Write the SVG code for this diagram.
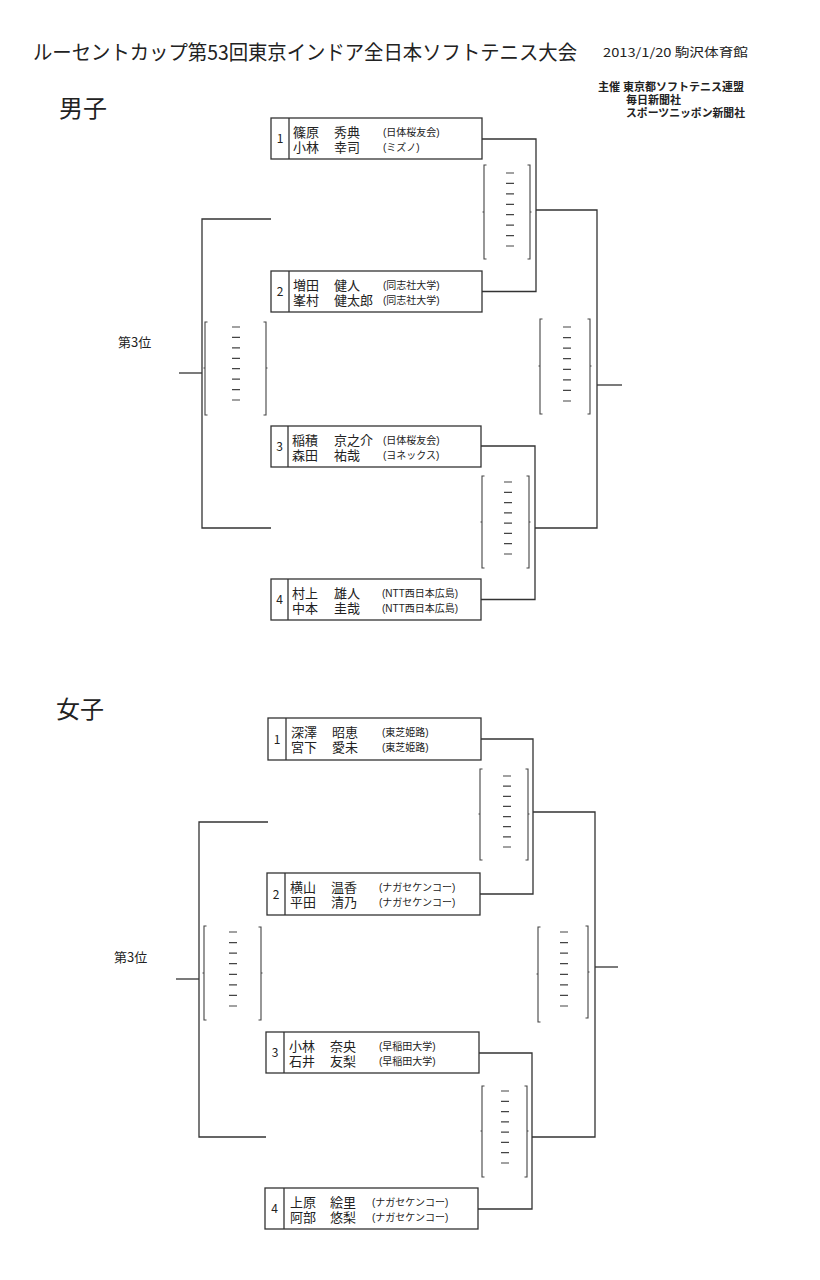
<svg xmlns="http://www.w3.org/2000/svg" width="820" height="1280" viewBox="0 0 820 1280">
<style>
text{font-family:"Noto Sans CJK JP","Noto Sans",sans-serif;fill:#222}
.box{fill:none;stroke:#333;stroke-width:1.3}
.ln{fill:none;stroke:#333;stroke-width:1.3}
.sc{fill:none;stroke:#444;stroke-width:1.1}
.dash{fill:none;stroke:#444;stroke-width:1.2}
.nm{font-size:13px;font-family:"Liberation Sans","Noto Sans CJK JP",sans-serif}
.af{font-size:10px;font-family:"Liberation Sans","Noto Sans CJK JP",sans-serif}
.no{font-size:12px;text-anchor:middle}
.head{font-size:11px;font-weight:bold;font-family:"Liberation Sans","Noto Sans CJK JP",sans-serif}
.sec{font-size:24px}
.third{font-size:13px}
</style>
<rect width="820" height="1280" fill="#fff"/>
<g id="header">
<text x="33" y="60" font-size="20.5" textLength="544" lengthAdjust="spacingAndGlyphs">ルーセントカップ第53回東京インドア全日本ソフトテニス大会</text>
<text x="603" y="57" font-size="12" textLength="145" lengthAdjust="spacingAndGlyphs">2013/1/20  駒沢体育館</text>
<text class="head"><tspan x="598" y="91" textLength="146" lengthAdjust="spacingAndGlyphs">主催 東京都ソフトテニス連盟</tspan><tspan x="626" y="104">毎日新聞社</tspan><tspan x="626" y="117" textLength="119" lengthAdjust="spacingAndGlyphs">スポーツニッポン新聞社</tspan></text>
</g>
<!-- MEN -->
<text class="sec" x="59" y="117">男子</text>
<text class="third" x="118" y="347">第3位</text>
<g id="m1">
<rect class="box" x="271" y="118" width="211" height="41"/><path class="box" d="M289,118V159"/>
<text class="no" x="280" y="143">1</text>
<text class="nm"><tspan x="293" y="137">篠原</tspan><tspan x="293" y="152">小林</tspan></text>
<text class="nm"><tspan x="334" y="137">秀典</tspan><tspan x="334" y="152">幸司</tspan></text>
<text class="af"><tspan x="383" y="136">(日体桜友会)</tspan><tspan x="383" y="151">(ミズノ)</tspan></text>
</g>
<g id="m2">
<rect class="box" x="271" y="271" width="211" height="41"/><path class="box" d="M289,271V312"/>
<text class="no" x="280" y="296">2</text>
<text class="nm"><tspan x="293" y="290">増田</tspan><tspan x="293" y="305">峯村</tspan></text>
<text class="nm"><tspan x="334" y="290">健人</tspan><tspan x="334" y="305">健太郎</tspan></text>
<text class="af"><tspan x="383" y="289">(同志社大学)</tspan><tspan x="383" y="304">(同志社大学)</tspan></text>
</g>
<g id="m3">
<rect class="box" x="271" y="426" width="210" height="41"/><path class="box" d="M288,426V467"/>
<text class="no" x="279.5" y="451">3</text>
<text class="nm"><tspan x="292" y="445">稲積</tspan><tspan x="292" y="460">森田</tspan></text>
<text class="nm"><tspan x="334" y="445">京之介</tspan><tspan x="334" y="460">祐哉</tspan></text>
<text class="af"><tspan x="383" y="444">(日体桜友会)</tspan><tspan x="383" y="459">(ヨネックス)</tspan></text>
</g>
<g id="m4">
<rect class="box" x="271" y="579" width="210" height="41"/><path class="box" d="M288,579V620"/>
<text class="no" x="279.5" y="604">4</text>
<text class="nm"><tspan x="292" y="598">村上</tspan><tspan x="292" y="613">中本</tspan></text>
<text class="nm"><tspan x="334" y="598">雄人</tspan><tspan x="334" y="613">圭哉</tspan></text>
<text class="af"><tspan x="382" y="597">(NTT西日本広島)</tspan><tspan x="382" y="612">(NTT西日本広島)</tspan></text>
</g>
<!-- WOMEN -->
<text class="sec" x="56" y="718">女子</text>
<text class="third" x="114" y="962">第3位</text>
<g id="w1">
<rect class="box" x="268" y="718" width="213" height="42"/><path class="box" d="M286,718V760"/>
<text class="no" x="277" y="744">1</text>
<text class="nm"><tspan x="291" y="737">深澤</tspan><tspan x="291" y="752">宮下</tspan></text>
<text class="nm"><tspan x="332" y="737">昭恵</tspan><tspan x="332" y="752">愛未</tspan></text>
<text class="af"><tspan x="382" y="736">(東芝姫路)</tspan><tspan x="382" y="751">(東芝姫路)</tspan></text>
</g>
<g id="w2">
<rect class="box" x="267" y="873" width="213" height="42"/><path class="box" d="M285,873V915"/>
<text class="no" x="276" y="899">2</text>
<text class="nm"><tspan x="290" y="892">横山</tspan><tspan x="290" y="907">平田</tspan></text>
<text class="nm"><tspan x="331" y="892">温香</tspan><tspan x="331" y="907">清乃</tspan></text>
<text class="af"><tspan x="379" y="891">(ナガセケンコー)</tspan><tspan x="379" y="906">(ナガセケンコー)</tspan></text>
</g>
<g id="w3">
<rect class="box" x="266" y="1032" width="213" height="41"/><path class="box" d="M284,1032V1073"/>
<text class="no" x="275" y="1057">3</text>
<text class="nm"><tspan x="289" y="1051">小林</tspan><tspan x="289" y="1066">石井</tspan></text>
<text class="nm"><tspan x="330" y="1051">奈央</tspan><tspan x="330" y="1066">友梨</tspan></text>
<text class="af"><tspan x="379" y="1050">(早稲田大学)</tspan><tspan x="379" y="1065">(早稲田大学)</tspan></text>
</g>
<g id="w4">
<rect class="box" x="265" y="1188" width="213" height="41"/><path class="box" d="M284,1188V1229"/>
<text class="no" x="274.5" y="1213">4</text>
<text class="nm"><tspan x="290" y="1207">上原</tspan><tspan x="290" y="1222">阿部</tspan></text>
<text class="nm"><tspan x="330" y="1207">絵里</tspan><tspan x="330" y="1222">悠梨</tspan></text>
<text class="af"><tspan x="372" y="1206">(ナガセケンコー)</tspan><tspan x="372" y="1221">(ナガセケンコー)</tspan></text>
</g>
<g id="connectors">
<path class="ln" d="M482,139H536V291.5H482"/>
<path class="ln" d="M536,210H597V528H535"/>
<path class="ln" d="M597,385H622"/>
<path class="ln" d="M481,446H535V599.5H481"/>
<path class="ln" d="M271,219H202V528H271"/>
<path class="ln" d="M179,373H202"/>
<path class="ln" d="M481,739H533V894H480"/>
<path class="ln" d="M533,812H595V1137H532"/>
<path class="ln" d="M595,967H618"/>
<path class="ln" d="M479,1053H532V1209H478"/>
<path class="ln" d="M268,822H199V1137H266"/>
<path class="ln" d="M176,979H199"/>
</g>
<g id="scores">
<g id="s-m-top">
<path class="sc" d="M486.5,165H484V259H486.5M484,212h-1.5M527.5,165H530V259H527.5M530,212h1.5"/>
<path class="dash" d="M506,173h8M506,183.4h8M506,193.9h8M506,204.3h8M506,214.7h8M506,225.1h8M506,235.6h8M506,246h8"/>
</g>
<g id="s-m-final">
<path class="sc" d="M542.5,319H540V414H542.5M540,366h-1.5M587.5,319H590V414H587.5M590,366h1.5"/>
<path class="dash" d="M563,327h8M563,337.6h8M563,348.1h8M563,358.7h8M563,369.3h8M563,379.9h8M563,390.4h8M563,401h8"/>
</g>
<g id="s-m-low">
<path class="sc" d="M484.5,476H482V568H484.5M482,522h-1.5M526.5,476H529V568H526.5M529,522h1.5"/>
<path class="dash" d="M504,482h8M504,492.3h8M504,502.6h8M504,512.9h8M504,523.1h8M504,533.4h8M504,543.7h8M504,554h8"/>
</g>
<g id="s-m-third">
<path class="sc" d="M207.5,322H205V415H207.5M205,368h-1.5M263.5,322H266V415H263.5M266,368h1.5"/>
<path class="dash" d="M232,327h8M232,337.4h8M232,347.9h8M232,358.3h8M232,368.7h8M232,379.1h8M232,389.6h8M232,400h8"/>
</g>
<g id="s-w-top">
<path class="sc" d="M482.5,769H480V860H482.5M480,814h-1.5M525.5,769H528V860H525.5M528,814h1.5"/>
<path class="dash" d="M503,776h8M503,786.1h8M503,796.3h8M503,806.4h8M503,816.6h8M503,826.7h8M503,836.9h8M503,847h8"/>
</g>
<g id="s-w-final">
<path class="sc" d="M540.5,927H538V1022H540.5M538,974h-1.5M585.5,926H588V1018H585.5M588,972h1.5"/>
<path class="dash" d="M560,932h8M560,942.6h8M560,953.1h8M560,963.7h8M560,974.3h8M560,984.9h8M560,995.4h8M560,1006h8"/>
</g>
<g id="s-w-low">
<path class="sc" d="M484.5,1086H482V1177H484.5M482,1131h-1.5M524.5,1086H527V1177H524.5M527,1131h1.5"/>
<path class="dash" d="M501,1091h8M501,1101.3h8M501,1111.6h8M501,1121.9h8M501,1132.1h8M501,1142.4h8M501,1152.7h8M501,1163h8"/>
</g>
<g id="s-w-third">
<path class="sc" d="M206.5,926H204V1020H206.5M204,973h-1.5M258.5,927H261V1020H258.5M261,973h1.5"/>
<path class="dash" d="M229,932h8M229,942.6h8M229,953.1h8M229,963.7h8M229,974.3h8M229,984.9h8M229,995.4h8M229,1006h8"/>
</g>
</g>
</svg>
